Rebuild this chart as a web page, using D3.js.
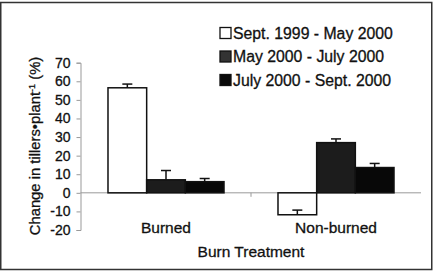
<!DOCTYPE html>
<html>
<head>
<meta charset="utf-8">
<script src="https://cdn.jsdelivr.net/npm/d3@7"></script>
<style>
  body { margin: 0; background: #fff; }
  text { font-family: Arial, "Liberation Sans", Helvetica, sans-serif; fill: #111; stroke: #111; stroke-width: 0.3px; }
</style>
</head>
<body>
<svg id="chart" width="439" height="272"></svg>
<script>
// data
var categories = ["Burned", "Non-burned"];
var seriesNames = ["Sept. 1999 - May 2000", "May 2000 - July 2000", "July 2000 - Sept. 2000"];
var seriesValues = [
    [56.5, -11.8],   // Sept. 1999 - May 2000
    [7.0, 27.0],     // May 2000 - July 2000
    [6.0, 13.6]      // July 2000 - Sept. 2000
];
var seriesErrors = [
    [2.0, 2.5],
    [5.0, 2.0],
    [1.7, 2.2]
];
var yTicks = [-20, -10, 0, 10, 20, 30, 40, 50, 60, 70];
var fills = ["#ffffff", "#1c1c1c", "#080808"];
var legendFills = ["#ffffff", "#333333", "#0a0a0a"];

var svg = d3.select("#chart");

// outer frame
svg.append("rect")
    .attr("x", 0.75).attr("y", 2.5)
    .attr("width", 431).attr("height", 267)
    .style("fill", "none")
    .style("stroke", "#333")
    .style("stroke-width", "1.5px");

var y = d3.scaleLinear().domain([-20, 70]).range([230, 62.7]);

var x0 = d3.scaleBand()
    .domain(categories)
    .range([81, 421])
    .paddingInner(0.3176)
    .paddingOuter(0.1588);

var x1 = d3.scaleBand()
    .domain(d3.range(seriesNames.length))
    .range([0, x0.bandwidth()]);

// y axis
var yAxis = d3.axisLeft(y)
    .tickValues(yTicks)
    .tickFormat(function(d) { return String(d); })
    .tickSize(4)
    .tickPadding(6);
var gy = svg.append("g")
    .attr("transform", "translate(80.5,0)")
    .call(yAxis);
gy.select(".domain").style("stroke", "#999");
gy.selectAll(".tick line").style("stroke", "#999");
gy.selectAll(".tick text")
    .style("font-size", "14px")
    .style("font-family", "Arial, 'Liberation Sans', sans-serif")
    .style("fill", "#111");

// zero line (category axis)
svg.append("line")
    .attr("x1", 80.5).attr("x2", 421)
    .attr("y1", y(0)).attr("y2", y(0))
    .style("stroke", "#999")
    .style("stroke-width", "1px");

// tick between categories
svg.append("line")
    .attr("x1", x0.step() / 2 + x0("Burned") + x0.bandwidth() / 2)
    .attr("x2", x0.step() / 2 + x0("Burned") + x0.bandwidth() / 2)
    .attr("y1", y(0)).attr("y2", y(0) + 4)
    .style("stroke", "#999");

// bars
seriesValues.forEach(function(vals, s) {
    var g = svg.append("g");
    g.selectAll("rect")
        .data(vals)
        .enter().append("rect")
        .attr("x", function(d, i) { return x0(categories[i]) + x1(s); })
        .attr("y", function(d) { return y(Math.max(0, d)); })
        .attr("width", x1.bandwidth())
        .attr("height", function(d) { return Math.abs(y(d) - y(0)); })
        .style("fill", fills[s])
        .style("stroke", "#111")
        .style("stroke-width", "1.5px");

    // error bars (plus direction)
    vals.forEach(function(d, i) {
        var cx = x0(categories[i]) + x1(s) + x1.bandwidth() / 2;
        var yEnd = y(d + seriesErrors[s][i]);
        g.append("line")
            .attr("x1", cx).attr("x2", cx)
            .attr("y1", y(d)).attr("y2", yEnd)
            .style("stroke", "#111").style("stroke-width", "1.5px");
        g.append("line")
            .attr("x1", cx - 5).attr("x2", cx + 5)
            .attr("y1", yEnd).attr("y2", yEnd)
            .style("stroke", "#111").style("stroke-width", "1.5px");
    });
});

// category labels
svg.selectAll(".cat")
    .data(categories)
    .enter().append("text")
    .attr("class", "cat")
    .attr("x", function(d) { return x0(d) + x0.bandwidth() / 2; })
    .attr("y", 233)
    .attr("text-anchor", "middle")
    .style("font-size", "15.5px")
    .text(function(d) { return d; });

// x title
svg.append("text")
    .attr("x", 251).attr("y", 257)
    .attr("text-anchor", "middle")
    .style("font-size", "15.5px")
    .text("Burn Treatment");

// y title
var yt = svg.append("text")
    .attr("transform", "translate(40,146) rotate(-90)")
    .attr("text-anchor", "middle")
    .style("font-size", "14.8px");
yt.append("tspan").text("Change in tillers\u2022plant");
yt.append("tspan").attr("dy", -5).style("font-size", "9px").text("-1");
yt.append("tspan").attr("dy", 5).text(" (%)");

// legend
var legend = svg.append("g");
seriesNames.forEach(function(name, s) {
    var cy = 33 + s * 23.5;
    legend.append("rect")
        .attr("x", 220).attr("y", cy - 5.5)
        .attr("width", 11).attr("height", 11)
        .style("fill", legendFills[s])
        .style("stroke", "#111")
        .style("stroke-width", "1.3px");
    legend.append("text")
        .attr("x", 233).attr("y", cy + 5.5)
        .style("font-size", "15.8px")
        .text(name);
});
</script>
</body>
</html>
